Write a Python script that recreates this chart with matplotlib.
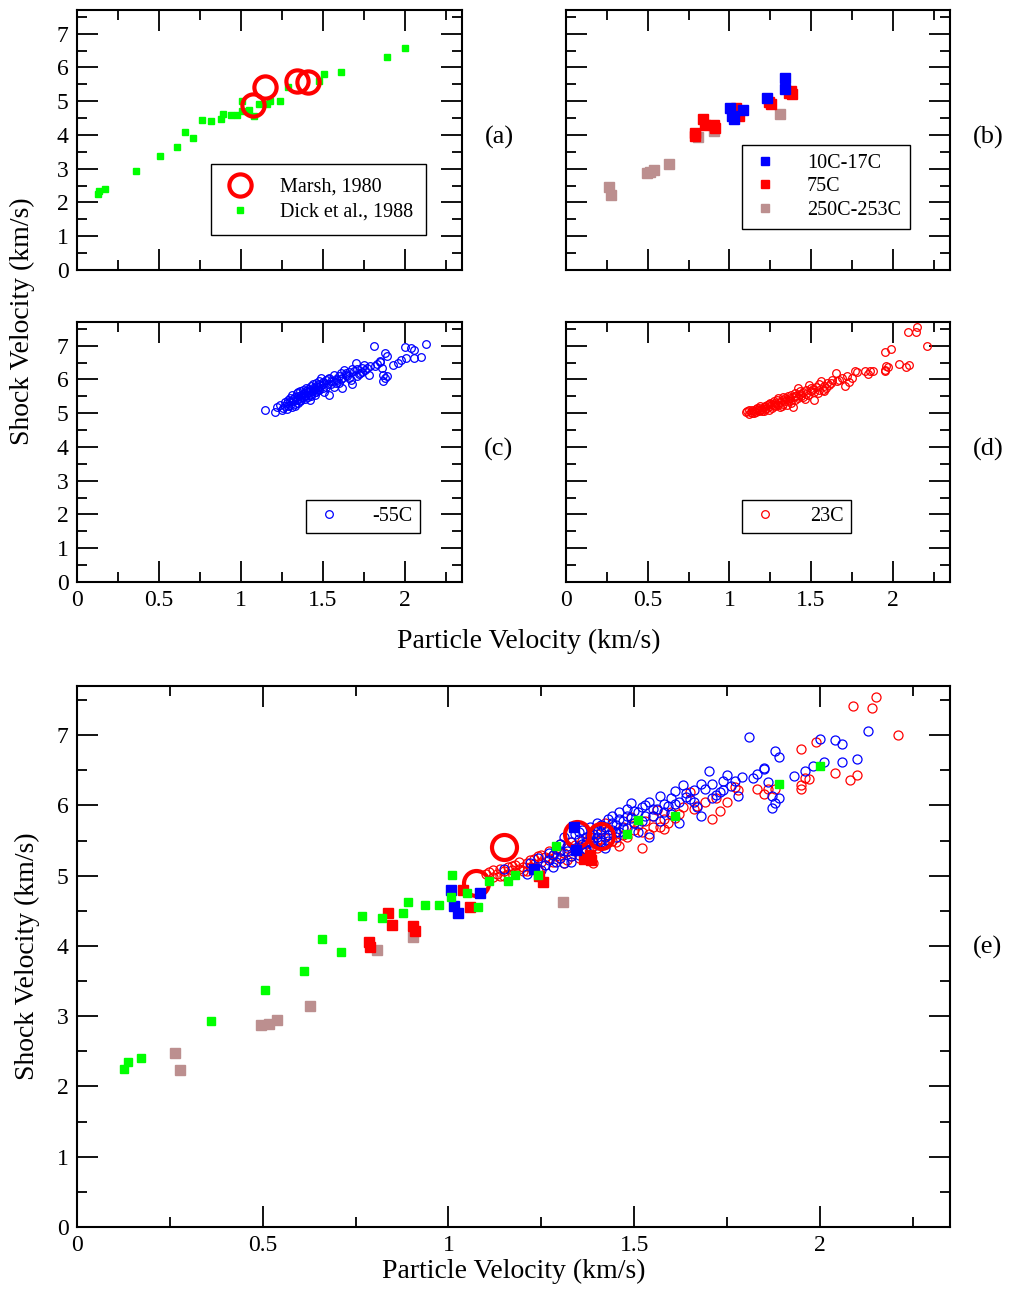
import matplotlib
matplotlib.use("Agg")
import matplotlib.pyplot as plt
from matplotlib.ticker import MultipleLocator

plt.rcParams['font.family'] = ['Liberation Serif', 'DejaVu Serif']

# Marsh, 1980
marsh_up = [1.075, 1.15, 1.345, 1.41]
marsh_us = [4.90, 5.41, 5.59, 5.56]

# Dick et al., 1988
dick_up = [0.126, 0.136, 0.171, 0.36, 0.506, 0.61, 0.659, 0.71, 0.766, 0.82, 0.878,
           0.89, 0.937, 0.974, 1.006, 1.01, 1.05, 1.08, 1.108, 1.16, 1.18, 1.24,
           1.29, 1.48, 1.51, 1.61, 1.89, 2.0]
dick_us = [2.25, 2.35, 2.41, 2.93, 3.37, 3.64, 4.10, 3.91, 4.43, 4.40, 4.47,
           4.63, 4.58, 4.58, 4.70, 5.01, 4.75, 4.55, 4.92, 4.92, 5.01, 5.01,
           5.42, 5.60, 5.79, 5.85, 6.31, 6.56]

# 10C-17C
t10_up = [1.006, 1.016, 1.026, 1.085, 1.23, 1.338, 1.342]
t10_us = [4.80, 4.57, 4.47, 4.75, 5.10, 5.70, 5.36]

# 75C
t75_up = [0.787, 0.79, 0.837, 0.848, 0.904, 0.91, 1.04, 1.057, 1.244, 1.254, 1.366, 1.383, 1.38]
t75_us = [4.05, 3.98, 4.47, 4.30, 4.28, 4.22, 4.80, 4.56, 4.99, 4.91, 5.24, 5.22, 5.30]

# 250C-253C
t250_up = [0.264, 0.278, 0.496, 0.516, 0.538, 0.628, 0.807, 0.904, 1.309]
t250_us = [2.47, 2.23, 2.87, 2.89, 2.95, 3.15, 3.94, 4.13, 4.62]

# -55C
m55_up = [1.15, 1.21, 1.22, 1.24, 1.26, 1.27, 1.28, 1.28, 1.29, 1.30, 1.30, 1.31, 1.31,
          1.32, 1.33, 1.33, 1.34, 1.34, 1.35, 1.35, 1.36, 1.36, 1.37, 1.37, 1.38, 1.38,
          1.39, 1.39, 1.40, 1.40, 1.41, 1.41, 1.42, 1.42, 1.43, 1.43, 1.44, 1.44, 1.45,
          1.45, 1.46, 1.46, 1.47, 1.48, 1.48, 1.49, 1.49, 1.50, 1.51, 1.51, 1.52, 1.53,
          1.54, 1.54, 1.55, 1.56, 1.57, 1.57, 1.58, 1.59, 1.60, 1.60, 1.61, 1.62, 1.62,
          1.63, 1.64, 1.65, 1.66, 1.67, 1.68, 1.69, 1.70, 1.71, 1.72, 1.73, 1.74, 1.75,
          1.76, 1.78, 1.79, 1.81, 1.82, 1.83, 1.85, 1.85, 1.86, 1.87, 1.87, 1.88, 1.88,
          1.89, 1.89, 1.93, 1.96, 1.98, 2.00, 2.01, 2.04, 2.06, 2.06, 2.10, 2.13,
          1.25, 1.27, 1.29, 1.30, 1.32, 1.33, 1.35, 1.36, 1.37, 1.38, 1.39, 1.40, 1.41,
          1.42, 1.43, 1.44, 1.45, 1.46, 1.47, 1.48, 1.50, 1.52, 1.53, 1.55, 1.58, 1.61,
          1.64, 1.66, 1.68, 1.71, 1.74, 1.77]
m55_us = [5.09, 5.02, 5.18, 5.25, 5.15, 5.22, 5.30, 5.12, 5.38, 5.25, 5.45, 5.55, 5.18,
          5.35, 5.28, 5.48, 5.40, 5.60, 5.30, 5.52, 5.45, 5.65, 5.38, 5.55, 5.48, 5.70,
          5.60, 5.42, 5.75, 5.55, 5.62, 5.48, 5.40, 5.70, 5.58, 5.80, 5.85, 5.65, 5.72,
          5.55, 5.62, 5.90, 5.78, 5.68, 5.95, 5.82, 6.04, 5.75, 5.90, 5.62, 5.98, 5.85,
          5.55, 6.05, 5.85, 5.95, 6.14, 5.78, 6.02, 5.99, 6.10, 5.88, 6.20, 5.75, 6.05,
          6.29, 6.12, 6.09, 6.22, 5.98, 5.85, 6.24, 6.49, 6.30, 6.15, 6.19, 6.35, 6.44,
          6.28, 6.14, 6.40, 6.98, 6.39, 6.45, 6.54, 6.52, 6.34, 6.14, 5.96, 6.03, 6.78,
          6.69, 6.10, 6.42, 6.49, 6.56, 6.95, 6.62, 6.93, 6.88, 6.62, 6.66, 7.06,
          5.08, 5.32, 5.20, 5.35, 5.42, 5.20, 5.62, 5.35, 5.48, 5.58, 5.50, 5.65, 5.72,
          5.55, 5.50, 5.75, 5.62, 5.80, 5.68, 5.85, 5.92, 5.78, 6.00, 5.95, 5.90, 6.02,
          6.18, 6.05, 6.30, 6.10, 6.22, 6.35]

# 23C
t23_up = [1.10, 1.11, 1.12, 1.12, 1.13, 1.14, 1.14, 1.15, 1.16, 1.16, 1.17, 1.18, 1.18,
          1.19, 1.19, 1.20, 1.21, 1.21, 1.22, 1.22, 1.23, 1.24, 1.24, 1.25, 1.25, 1.26,
          1.27, 1.27, 1.28, 1.28, 1.29, 1.30, 1.30, 1.31, 1.31, 1.32, 1.33, 1.33, 1.34,
          1.35, 1.35, 1.36, 1.36, 1.37, 1.38, 1.38, 1.39, 1.39, 1.40, 1.40, 1.41, 1.42,
          1.42, 1.43, 1.44, 1.45, 1.46, 1.47, 1.48, 1.49, 1.50, 1.51, 1.52, 1.53, 1.54,
          1.55, 1.56, 1.57, 1.58, 1.59, 1.60, 1.62, 1.63, 1.65, 1.66, 1.67, 1.69, 1.71,
          1.72, 1.73, 1.75, 1.77, 1.78, 1.83, 1.85, 1.86, 1.88, 1.95, 1.95, 1.96, 1.97,
          1.95, 1.99, 2.04, 2.08, 2.10, 2.09, 2.14, 2.15, 2.21,
          1.15, 1.17, 1.20, 1.23, 1.26, 1.29, 1.32, 1.34, 1.37, 1.40, 1.43, 1.45, 1.47,
          1.50, 1.52, 1.55, 1.58, 1.61]
t23_us = [5.02, 5.05, 4.98, 5.08, 5.03, 5.10, 5.00, 5.06, 5.12, 5.02, 5.08, 5.15, 5.05,
          5.20, 5.10, 5.12, 5.18, 5.06, 5.22, 5.12, 5.16, 5.28, 5.10, 5.20, 5.30, 5.15,
          5.25, 5.35, 5.20, 5.30, 5.38, 5.25, 5.45, 5.32, 5.18, 5.40, 5.28, 5.48, 5.35,
          5.42, 5.25, 5.50, 5.38, 5.45, 5.55, 5.30, 5.18, 5.48, 5.60, 5.40, 5.52, 5.75,
          5.45, 5.58, 5.50, 5.62, 5.42, 5.70, 5.55, 5.84, 5.65, 5.72, 5.40, 5.78, 5.60,
          5.85, 5.94, 5.70, 5.80, 5.75, 5.90, 5.88, 5.98, 6.19, 5.95, 5.99, 6.05, 5.80,
          6.10, 5.92, 6.05, 6.26, 6.22, 6.24, 6.16, 6.24, 6.24, 6.29, 6.24, 6.39, 6.37,
          6.80, 6.90, 6.46, 6.36, 6.44, 7.41, 7.39, 7.55, 7.00,
          5.00, 5.14, 5.06, 5.24, 5.26, 5.28, 5.22, 5.44, 5.35, 5.50, 5.65, 5.48, 5.58,
          5.75, 5.62, 5.70, 5.66, 5.82]

panel_labels = ['(a)', '(b)', '(c)', '(d)', '(e)']
x_ticks = [0, 0.5, 1, 1.5, 2]
x_ticklabels = ['0', '0.5', '1', '1.5', '2']

BLUE = '#0000ff'
RED = '#ff0000'
GREEN = '#00ff00'
BROWN = '#bc8f8f'

W, H = 1012, 1298


def style_axes(ax, xlabels=True, ylabels=True):
    ax.set_xlim(0, 2.35)
    ax.set_ylim(0, 7.7)
    ax.xaxis.set_major_locator(MultipleLocator(0.5))
    ax.xaxis.set_minor_locator(MultipleLocator(0.25))
    ax.yaxis.set_major_locator(MultipleLocator(1))
    ax.yaxis.set_minor_locator(MultipleLocator(0.5))
    ax.tick_params(which='both', direction='in', top=True, right=True, width=1.3,
                   labelsize=17, pad=6)
    ax.tick_params(which='major', length=15)
    ax.tick_params(which='minor', length=7.5)
    for sp in ax.spines.values():
        sp.set_linewidth(1.5)
    ax.set_xticks(x_ticks)
    if xlabels:
        ax.set_xticklabels(x_ticklabels)
    else:
        ax.set_xticklabels([])
    if not ylabels:
        ax.set_yticklabels([])


def add_axes(fig, left, top, right, bottom):
    return fig.add_axes([left / W, 1 - bottom / H, (right - left) / W, (bottom - top) / H])


def marsh(ax, ms=16):
    ax.plot(marsh_up, marsh_us, 'o', ms=ms, mfc='none', mec=RED, mew=3, lw=0)


def squares(ax, x, y, color, ms):
    ax.plot(x, y, 's', ms=ms, color=color, mec=color, lw=0)


def circles(ax, x, y, color, ms, label=None):
    ax.plot(x, y, 'o', ms=ms, mfc='none', mec=color, mew=0.9, label=label, lw=0)


def make_legend(ax, handles, labels, anchor, spacing, pad, textpad, hlen):
    leg = ax.legend(handles, labels, loc='lower right', bbox_to_anchor=anchor,
                    fontsize=14.5, fancybox=False, edgecolor='black', framealpha=1,
                    handletextpad=textpad, borderpad=pad, labelspacing=spacing,
                    handlelength=hlen, borderaxespad=0)
    leg.get_frame().set_linewidth(1.0)
    return leg


fig = plt.figure(figsize=(W / 100, H / 100), dpi=100)

ax_a = add_axes(fig, 77, 10, 462, 270)
ax_b = add_axes(fig, 566, 10, 950, 270)
ax_c = add_axes(fig, 77, 322, 462, 582)
ax_d = add_axes(fig, 566, 322, 950, 582)
ax_e = add_axes(fig, 77, 686, 950, 1227)

# (a)
squares(ax_a, dick_up, dick_us, GREEN, 5)
marsh(ax_a)
h1, = ax_a.plot([], [], 'o', ms=16, mfc='none', mec=RED, mew=3)
h2, = ax_a.plot([], [], 's', ms=5, color=GREEN)
make_legend(ax_a, [h1, h2], ['Marsh, 1980', 'Dick et al., 1988'], (0.906, 0.135),
            spacing=0.3, pad=0.65, textpad=1.15, hlen=1.6)
style_axes(ax_a, xlabels=False)

# (b)
squares(ax_b, t250_up, t250_us, BROWN, 6.5)
squares(ax_b, t75_up, t75_us, RED, 6.5)
squares(ax_b, t10_up, t10_us, BLUE, 6.5)
hb = [ax_b.plot([], [], 's', ms=6, color=c)[0] for c in (BLUE, RED, BROWN)]
make_legend(ax_b, hb, ['10C-17C', '75C', '250C-253C'], (0.896, 0.158),
            spacing=0.22, pad=0.45, textpad=1.4, hlen=1.4)
style_axes(ax_b, xlabels=False, ylabels=False)

# (c)
circles(ax_c, m55_up, m55_us, BLUE, 5.5)
hc, = ax_c.plot([], [], 'o', ms=5.5, mfc='none', mec=BLUE, mew=0.9)
make_legend(ax_c, [hc], ['-55C'], (0.891, 0.188),
            spacing=0.3, pad=0.35, textpad=1.4, hlen=1.55)
style_axes(ax_c)

# (d)
circles(ax_d, t23_up, t23_us, RED, 5.5)
hd, = ax_d.plot([], [], 'o', ms=5.5, mfc='none', mec=RED, mew=0.9)
make_legend(ax_d, [hd], ['23C'], (0.742, 0.188),
            spacing=0.3, pad=0.35, textpad=1.4, hlen=1.65)
style_axes(ax_d, ylabels=False)

# (e) all data together
circles(ax_e, t23_up, t23_us, RED, 6.5)
circles(ax_e, m55_up, m55_us, BLUE, 6.5)
marsh(ax_e, ms=18)
squares(ax_e, t250_up, t250_us, BROWN, 7)
squares(ax_e, t75_up, t75_us, RED, 7)
squares(ax_e, t10_up, t10_us, BLUE, 7)
squares(ax_e, dick_up, dick_us, GREEN, 5.5)
style_axes(ax_e)
ax_e.set_xlabel('Particle Velocity (km/s)', fontsize=20, labelpad=2)
ax_e.set_ylabel('Shock Velocity (km/s)', fontsize=20, labelpad=12)

fig.text(22 / W, 1 - 321 / H, 'Shock Velocity (km/s)', rotation=90, fontsize=20,
         ha='center', va='center')
fig.text(529 / W, 1 - 641 / H, 'Particle Velocity (km/s)', fontsize=20,
         ha='center', va='center')

label_pos = [(499, 137), (988, 137), (499, 449), (988, 449), (988, 947)]
for lab, (px, py) in zip(panel_labels, label_pos):
    fig.text(px / W, 1 - py / H, lab, fontsize=19, ha='center', va='center')

fig.savefig('out.png', dpi=100)
